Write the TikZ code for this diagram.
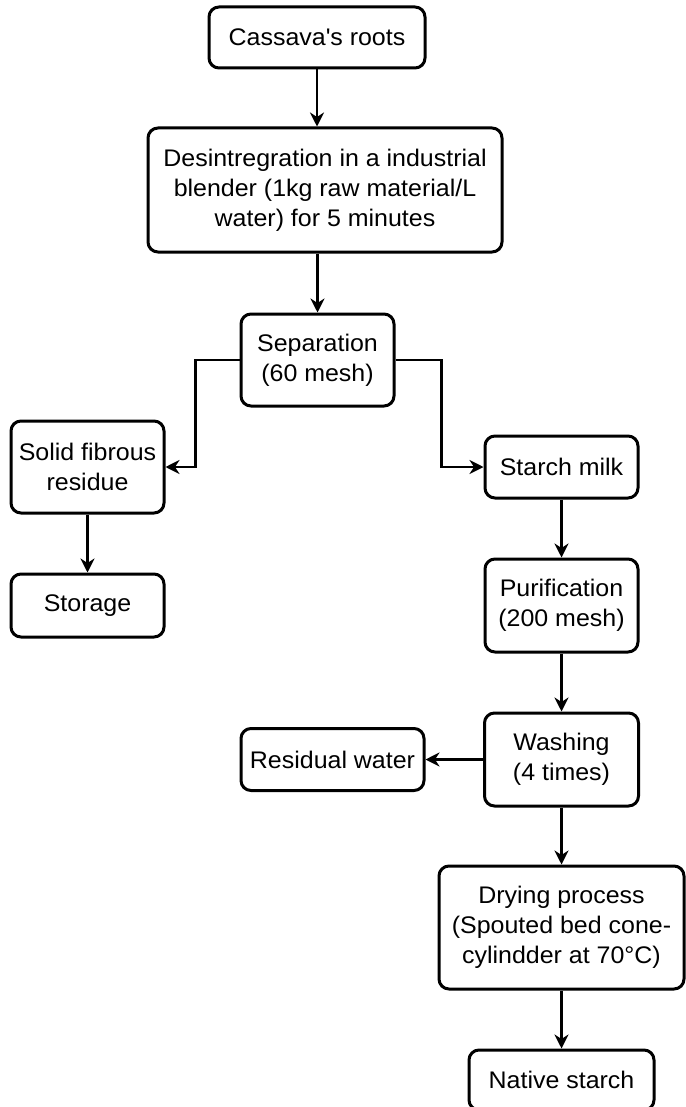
\documentclass[tikz,border=0pt]{standalone}
\usepackage{fontspec}
\setmainfont{Liberation Sans}[FakeStretch=1.04]
\usetikzlibrary{arrows.meta}
\begin{document}
\begin{tikzpicture}[x=1pt,y=-1pt,
  box/.style={draw=black, line width=3pt, rounded corners=10pt, fill=white,
    align=center, inner sep=0pt, font=\fontsize{24}{30}\selectfont},
  flow/.style={line width=2.4pt, -{Stealth[length=14pt,width=14pt,inset=4.5pt]}}]
\useasboundingbox (0,0) rectangle (685,1107);
\node[box, minimum width=216pt, minimum height=61pt] (cassava) at (317,37.5) {Cassava\textquotesingle s roots};
\node[box, minimum width=354pt, minimum height=124pt] (desint) at (325,190) {Desintregration in a industrial\\blender (1kg raw material/L\\water) for 5 minutes};
\node[box, minimum width=153pt, minimum height=92pt] (sep) at (317.5,360) {Separation\\(60 mesh)};
\node[box, minimum width=153pt, minimum height=92pt] (solid) at (87.5,467) {Solid fibrous\\residue};
\node[box, minimum width=153pt, minimum height=63pt] (storage) at (87.5,605.5) {Storage};
\node[box, minimum width=153pt, minimum height=62pt] (starch) at (561.5,467) {Starch milk};
\node[box, minimum width=153pt, minimum height=93pt] (purif) at (561.5,605.5) {Purification\\(200 mesh)};
\node[box, minimum width=154pt, minimum height=93pt] (wash) at (561.5,759.5) {Washing\\(4 times)};
\node[box, minimum width=183pt, minimum height=62pt] (resid) at (332.5,759.5) {Residual water};
\node[box, minimum width=245pt, minimum height=123pt] (dry) at (561.5,927.5) {Drying process\\(Spouted bed cone-\\cylindder at 70°C)};
\node[box, minimum width=185pt, minimum height=60pt] (native) at (561.5,1080) {Native starch};
\draw[flow] (cassava.south) -- (cassava.south |- desint.north);
\draw[flow] (sep.north |- desint.south) -- (sep.north);
\draw[flow] (sep.west) -- ++(-44,0) |- (solid.east);
\draw[flow] (sep.east) -- ++(46,0) |- (starch.west);
\draw[flow] (solid.south) -- (storage.north);
\draw[flow] (starch.south) -- (purif.north);
\draw[flow] (purif.south) -- (wash.north);
\draw[flow] (wash.west) -- (resid.east);
\draw[flow] (wash.south) -- (dry.north);
\draw[flow] (dry.south) -- (native.north);
\end{tikzpicture}
\end{document}
